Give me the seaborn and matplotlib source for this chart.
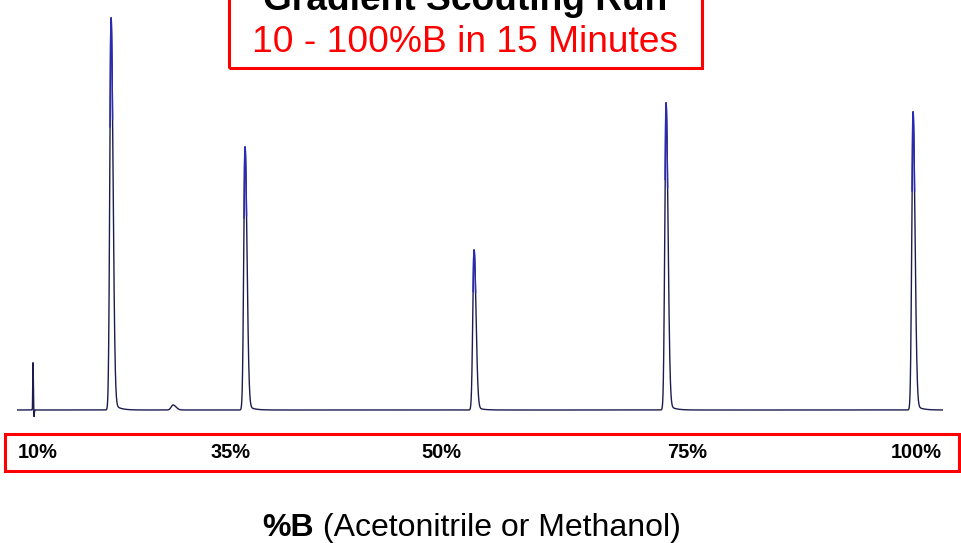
import numpy as np
import pandas as pd
import matplotlib
matplotlib.use("Agg")
import matplotlib.pyplot as plt
from matplotlib.patches import Rectangle
import seaborn as sns

# Gradient scouting run: peak table (retention time in minutes, height in mAU-like units)
retention_times = [0.259, 1.523, 2.527, 3.693, 7.403, 10.513, 14.514]
peak_heights = [48, 392, 5, 263, 160, 307, 298]
peak_widths = [0.004, 0.020, 0.030, 0.020, 0.020, 0.020, 0.020]
# injection disturbance just after the first spike
dip_time = 0.275
dip_depth = -8

gradient_labels = ["10%", "35%", "50%", "75%", "100%"]
gradient_label_px = [38, 231, 441, 687, 916]

run_minutes = 15.0

# build the detector trace from the peak table
t = np.linspace(0, run_minutes, 9000)
signal = np.zeros_like(t)
for rt, h, w in zip(retention_times, peak_heights, peak_widths):
    left = np.exp(-0.5 * ((t - rt) / w) ** 2)
    right = np.exp(-0.5 * ((t - rt) / (w * 1.6)) ** 2)
    shape = np.where(t < rt, left, right)
    dt = np.clip(t - rt, 0, None)
    tail = 0.025 * (1 - np.exp(-dt / 0.02)) * np.exp(-dt / 0.09)
    signal += h * (shape + tail * (w > 0.01))
signal += dip_depth * np.exp(-0.5 * ((t - dip_time) / 0.005) ** 2)

df = pd.DataFrame({"time": t, "signal": signal})

sns.set_theme(style="white")
plt.rcParams["font.family"] = ["Liberation Sans", "DejaVu Sans"]

W, H = 961, 543
fig = plt.figure(figsize=(W / 100, H / 100), dpi=100)
fig.patch.set_facecolor("white")


def fx(px):
    return px / W


def fy(py):
    return 1 - py / H


ax = fig.add_axes([fx(17), fy(420), (943 - 17) / W, (420 - 10) / H])
sns.lineplot(data=df, x="time", y="signal", ax=ax, color="#1c1c4e",
             linewidth=1.0, estimator=None, sort=False)
# brighter blue near the apex of each major peak
for rt, h in zip(retention_times, peak_heights):
    if h < 100:
        continue
    apex = df[(np.abs(df["time"] - rt) < 0.03) & (df["signal"] > 0.72 * h)]
    sns.lineplot(data=apex, x="time", y="signal", ax=ax, color="#2a2ab4",
                 linewidth=1.0, estimator=None, sort=False)
ax.set_xlim(0, run_minutes)
ax.set_ylim(-10, 400)
ax.set_axis_off()

# title box
fig.patches.append(Rectangle((fx(229), fy(68)), (702 - 229) / W, (68 + 30) / H,
                             transform=fig.transFigure, fill=False,
                             edgecolor="#ff0000", linewidth=2.2))
fig.text(fx(465), fy(10), "Gradient Scouting Run", ha="center", va="baseline",
         fontsize=26.7, fontweight="bold", color="black")
fig.text(fx(465), fy(52), "10 - 100%B in 15 Minutes", ha="center", va="baseline",
         fontsize=26.7, color="#ff0000")

# gradient strip
fig.patches.append(Rectangle((fx(5), fy(471)), (959 - 5) / W, (471 - 434) / H,
                             transform=fig.transFigure, fill=False,
                             edgecolor="#ff0000", linewidth=2.2))
for lab, px in zip(gradient_labels, gradient_label_px):
    fig.text(fx(px), fy(453), lab, ha="center", va="center",
             fontsize=14.4, fontweight="bold", color="black")

# axis caption with bold %B
fig.canvas.draw()
renderer = fig.canvas.get_renderer()
part1 = fig.text(fx(262), fy(536), "%B", ha="left", va="baseline",
                 fontsize=23, fontweight="bold", color="black")
bb = part1.get_window_extent(renderer=renderer)
fig.text(bb.x1 / W, fy(536), " (Acetonitrile or Methanol)", ha="left",
         va="baseline", fontsize=23, color="black")

fig.savefig("out.png", dpi=100, facecolor="white")
